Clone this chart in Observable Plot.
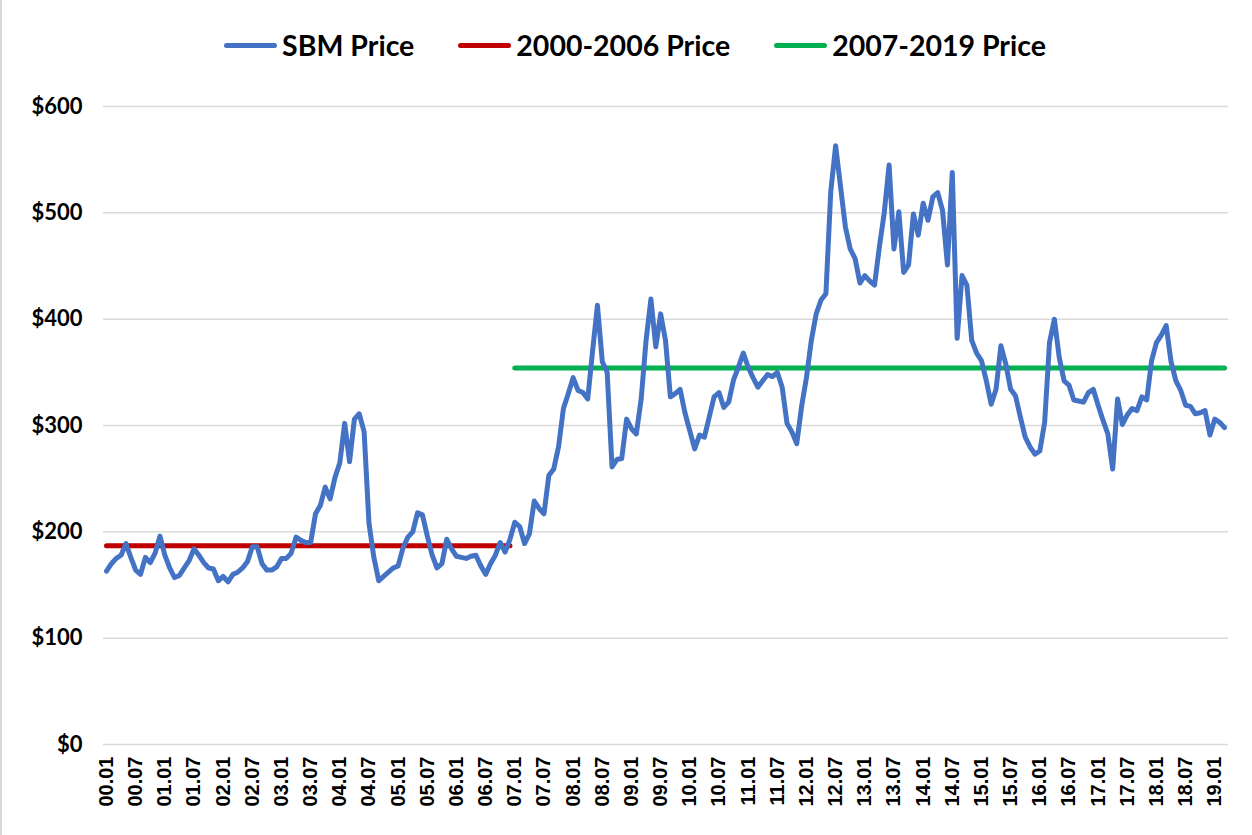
<!DOCTYPE html>
<html>
<head>
<meta charset="utf-8">
<script src="https://cdn.jsdelivr.net/npm/d3@7"></script>
<script src="https://cdn.jsdelivr.net/npm/@observablehq/plot@0.6"></script>
<style>
  html, body { margin: 0; padding: 0; background: #fff; }
  #wrap { position: relative; width: 1252px; height: 835px; overflow: hidden; border-left: 2px solid #d9d9d9; box-sizing: border-box; }
  #legend { height: 90px; display: flex; justify-content: center; align-items: flex-start; padding-top: 28px; box-sizing: border-box; padding-left: 16px;
    font-family: Lato, "Open Sans", sans-serif; font-weight: bold; font-size: 28.5px; color: #000; }
  .item { display: flex; align-items: center; margin: 0 22px; }
  .sw { width: 53px; height: 5px; border-radius: 3px; margin-right: 5px; }
  #chart svg { display: block; }
</style>
</head>
<body>
<div id="wrap">
  <div id="legend"></div>
  <div id="chart"></div>
</div>
<script>
// Monthly SBM price, 2000.01 – 2019.03 (USD / short ton)
const startYear = 2000;
const prices = [
  163,170,175,178,189,176,164,160,176,171,180,196,
  178,166,157,159,166,173,184,178,171,166,165,154,
  158,153,160,162,166,172,186,186,170,164,164,167,
  175,175,180,195,192,190,190,217,225,242,231,251,
  265,302,266,306,311,294,208,176,154,158,162,166,
  168,185,195,200,218,216,196,178,166,170,193,184,
  177,176,175,177,178,168,160,170,178,190,181,193,
  209,205,189,198,229,222,217,253,259,280,316,330,
  345,333,331,325,370,413,360,350,261,268,269,306,
  297,292,325,380,419,374,405,380,327,330,334,312,
  295,278,291,289,308,327,331,317,322,343,355,368,
  355,345,336,342,348,346,350,336,302,294,283,318,
  345,380,405,418,424,520,563,525,487,466,457,434,
  441,436,432,468,500,545,466,501,444,451,499,479,
  509,493,515,519,502,451,538,382,441,432,380,368,
  361,342,320,334,375,358,334,328,308,289,280,273,
  276,303,378,400,364,342,338,324,323,322,331,334,
  319,305,292,259,325,301,310,316,314,327,324,361,
  378,385,394,360,342,333,319,318,311,312,314,291,
  306,303,298
];
// Period averages
const periodNames = ["2000-2006 Price", "2007-2019 Price"];
const periodStart = ["00.01", "07.01"];
const periodEnd = ["06.12", "19.03"];
const periodAvg = [187, 354];
const periodColors = ["#C00000", "#00B050"];

const seriesNames = ["SBM Price", ...periodNames];
const seriesColors = ["#4472C4", ...periodColors];

const yTicks = [0, 100, 200, 300, 400, 500, 600];
const xTickLabels = ["00.01","00.07","01.01","01.07","02.01","02.07","03.01","03.07","04.01","04.07",
  "05.01","05.07","06.01","06.07","07.01","07.07","08.01","08.07","09.01","09.07","10.01","10.07",
  "11.01","11.07","12.01","12.07","13.01","13.07","14.01","14.07","15.01","15.07","16.01","16.07",
  "17.01","17.07","18.01","18.07","19.01"];

const pad = n => String(n).padStart(2, "0");
const monthLabels = prices.map((_, i) => pad(Math.floor(i / 12) + startYear - 2000) + "." + pad(i % 12 + 1));
const series = prices.map((v, i) => ({ i, label: monthLabels[i], price: v }));
const idx = lab => monthLabels.indexOf(lab);

const periodData = [];
periodNames.forEach((name, k) => {
  periodData.push({ name, i: idx(periodStart[k]), price: periodAvg[k] });
  periodData.push({ name, i: idx(periodEnd[k]), price: periodAvg[k] });
});

// Legend
const legend = document.getElementById("legend");
seriesNames.forEach((n, k) => {
  const it = document.createElement("div");
  it.className = "item";
  it.innerHTML = `<span class="sw" style="background:${seriesColors[k]}"></span><span>${n}</span>`;
  legend.appendChild(it);
});

const chart = Plot.plot({
  width: 1250,
  height: 745,
  marginTop: 16,
  marginBottom: 91,
  marginLeft: 104,
  marginRight: 28,
  x: { domain: [0, prices.length - 1], axis: null, label: null },
  y: { domain: [0, 600], axis: null, label: null },
  color: { domain: periodNames, range: periodColors },
  marks: [
    Plot.ruleY(yTicks, { stroke: "#d9d9d9", strokeWidth: 1.5, insetLeft: -3, insetRight: -4 }),
    Plot.axisY(yTicks, {
      label: null, tickSize: 0, tickPadding: 24, tickFormat: d => "$" + d,
      fontSize: 22, fontWeight: "bold", fontFamily: "Lato, sans-serif", fill: "#000"
    }),
    Plot.axisX(xTickLabels.map(idx), {
      label: null, tickSize: 0, tickPadding: 12, tickRotate: -90, tickFormat: i => monthLabels[i],
      fontSize: 20, fontWeight: "bold", fontFamily: "'Liberation Sans', Arial, sans-serif", fill: "#000"
    }),
    Plot.line(periodData, { x: "i", y: "price", z: "name", stroke: "name", strokeWidth: 5, strokeLinecap: "round" }),
    Plot.line(series, { x: "i", y: "price", stroke: seriesColors[0], strokeWidth: 5, strokeLinecap: "round", strokeLinejoin: "round" })
  ]
});
document.getElementById("chart").appendChild(chart);
</script>
</body>
</html>
